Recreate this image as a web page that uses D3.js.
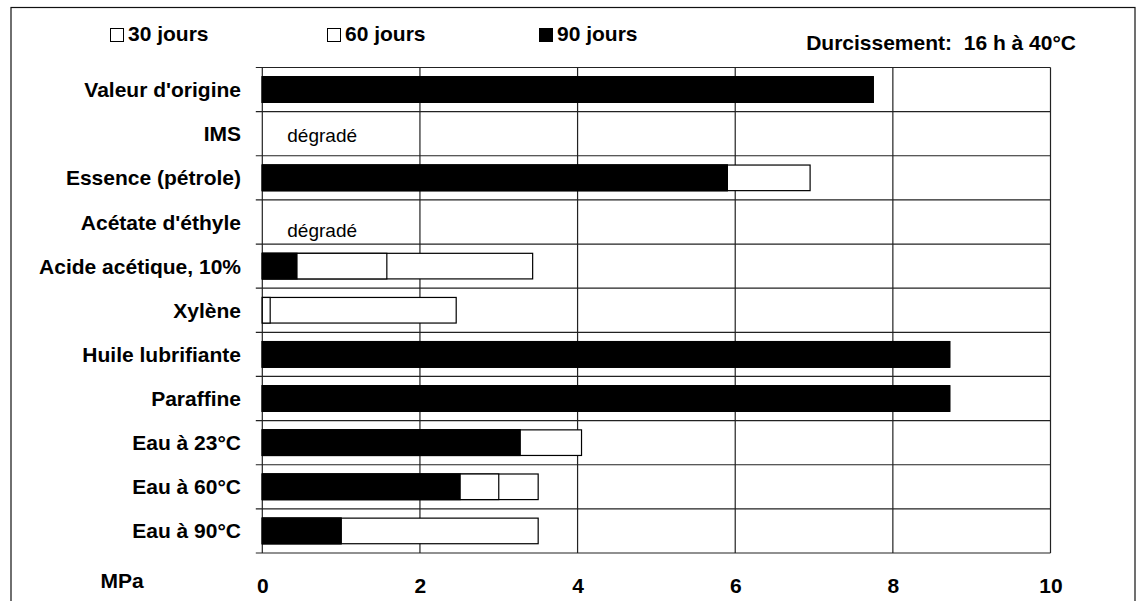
<!DOCTYPE html>
<html lang="fr">
<head>
<meta charset="utf-8">
<title>Durcissement: 16 h à 40°C</title>
<script src="https://cdn.jsdelivr.net/npm/d3@7"></script>
<style>
  body { margin: 0; background: #fff; }
  text { font-family: "Liberation Sans", Arial, sans-serif; fill: #000; }
</style>
</head>
<body>
<div id="chart"></div>
<script>
// categories, top to bottom
var categories = ["Valeur d'origine", "IMS", "Essence (pétrole)", "Acétate d'éthyle",
  "Acide acétique, 10%", "Xylène", "Huile lubrifiante", "Paraffine",
  "Eau à 23°C", "Eau à 60°C", "Eau à 90°C"];

// MPa, null = dégradé
var jours30 = [7.75, null, 6.95, null, 3.43, 2.46, 8.72, 8.72, 4.05, 3.5, 3.5];
var jours60 = [7.75, null, 5.9, null, 1.58, 0.1, 8.72, 8.72, 3.27, 3.0, 1.0];
var jours90 = [7.75, null, 5.9, null, 0.44, 0, 8.72, 8.72, 3.27, 2.51, 1.0];

var seriesNames = ["30 jours", "60 jours", "90 jours"];
var xTicks = [0, 2, 4, 6, 8, 10];
var notes = [{ cat: "IMS", text: "dégradé" }, { cat: "Acétate d'éthyle", text: "dégradé" }];
var curing = "Durcissement:  16 h à 40°C";
var unit = "MPa";

var w = 1141, h = 601;

var svg = d3.select("#chart").append("svg")
  .attr("width", w)
  .attr("height", h);

// outer frame
svg.append("rect")
  .attr("x", 11).attr("y", 7.5)
  .attr("width", 1124).attr("height", 620)
  .attr("fill", "none").attr("stroke", "#111").attr("stroke-width", 1.2);

var x = d3.scaleLinear().domain([0, 10]).range([262.3, 1050.5]);
var y = d3.scaleBand().domain(categories).range([67.5, 553]);

// grid
var grid = svg.append("g").attr("stroke", "#222").attr("stroke-width", 1.2);
var bounds = categories.map(function(c) { return y(c); }).concat([y.range()[1]]);
grid.selectAll("line.h")
  .data(bounds)
  .enter().append("line")
  .attr("class", "h")
  .attr("x1", x(0) - 6.5).attr("x2", x(10))
  .attr("y1", function(d) { return d; })
  .attr("y2", function(d) { return d; });
grid.selectAll("line.v")
  .data(xTicks)
  .enter().append("line")
  .attr("class", "v")
  .attr("x1", function(d) { return x(d); })
  .attr("x2", function(d) { return x(d); })
  .attr("y1", y.range()[0]).attr("y2", y.range()[1]);

// bars: 30 at the back, 90 in front
var barH = y.bandwidth() * 0.58;
var layers = [
  { vals: jours30, fill: "#fff" },
  { vals: jours60, fill: "#fff" },
  { vals: jours90, fill: "#000" }
];
layers.forEach(function(layer) {
  svg.append("g").selectAll("rect")
    .data(categories.filter(function(c, i) { return layer.vals[i]; }))
    .enter().append("rect")
    .attr("x", x(0))
    .attr("y", function(c) { return y(c) + (y.bandwidth() - barH) / 2; })
    .attr("width", function(c) { return x(layer.vals[categories.indexOf(c)]) - x(0); })
    .attr("height", barH)
    .attr("fill", layer.fill)
    .attr("stroke", "#000")
    .attr("stroke-width", 1.2);
});

// category labels
svg.append("g").selectAll("text")
  .data(categories)
  .enter().append("text")
  .attr("x", 241)
  .attr("y", function(c) { return y(c) + y.bandwidth() / 2; })
  .attr("dy", "0.36em")
  .attr("text-anchor", "end")
  .attr("font-size", 21)
  .attr("font-weight", "bold")
  .text(function(c) { return c; });

// dégradé notes
svg.append("g").selectAll("text")
  .data(notes)
  .enter().append("text")
  .attr("x", x(0) + 25)
  .attr("y", function(d, i) { return y(d.cat) + y.bandwidth() / 2 + (i === 0 ? 8 : 15); })
  .attr("font-size", 19)
  .text(function(d) { return d.text; });

// x tick labels
var xAxis = d3.axisBottom(x).tickValues(xTicks).tickSize(0).tickPadding(0);
var ax = svg.append("g").attr("transform", "translate(0,578)").call(xAxis);
ax.select(".domain").remove();
ax.selectAll("text")
  .attr("dy", "0.71em")
  .attr("font-size", 21)
  .attr("font-weight", "bold")
  .attr("font-family", "'Liberation Sans', Arial, sans-serif")
  .attr("fill", "#000");

svg.append("text")
  .attr("x", 122).attr("y", 588)
  .attr("text-anchor", "middle")
  .attr("font-size", 21).attr("font-weight", "bold")
  .text(unit);

// legend
var legX = [110, 327, 539];
var leg = svg.append("g").selectAll("g")
  .data(seriesNames)
  .enter().append("g")
  .attr("transform", function(d, i) { return "translate(" + legX[i] + ",0)"; });
leg.append("rect")
  .attr("x", 0.5).attr("y", 28.5)
  .attr("width", 13).attr("height", 13)
  .attr("fill", function(d, i) { return layers[i].fill; })
  .attr("stroke", "#000").attr("stroke-width", 1);
leg.append("text")
  .attr("x", 18).attr("y", 41)
  .attr("font-size", 21).attr("font-weight", "bold")
  .text(function(d) { return d; });

svg.append("text")
  .attr("x", 1076).attr("y", 50)
  .attr("text-anchor", "end")
  .attr("font-size", 21).attr("font-weight", "bold")
  .style("white-space", "pre")
  .attr("xml:space", "preserve")
  .text(curing);
</script>
</body>
</html>
